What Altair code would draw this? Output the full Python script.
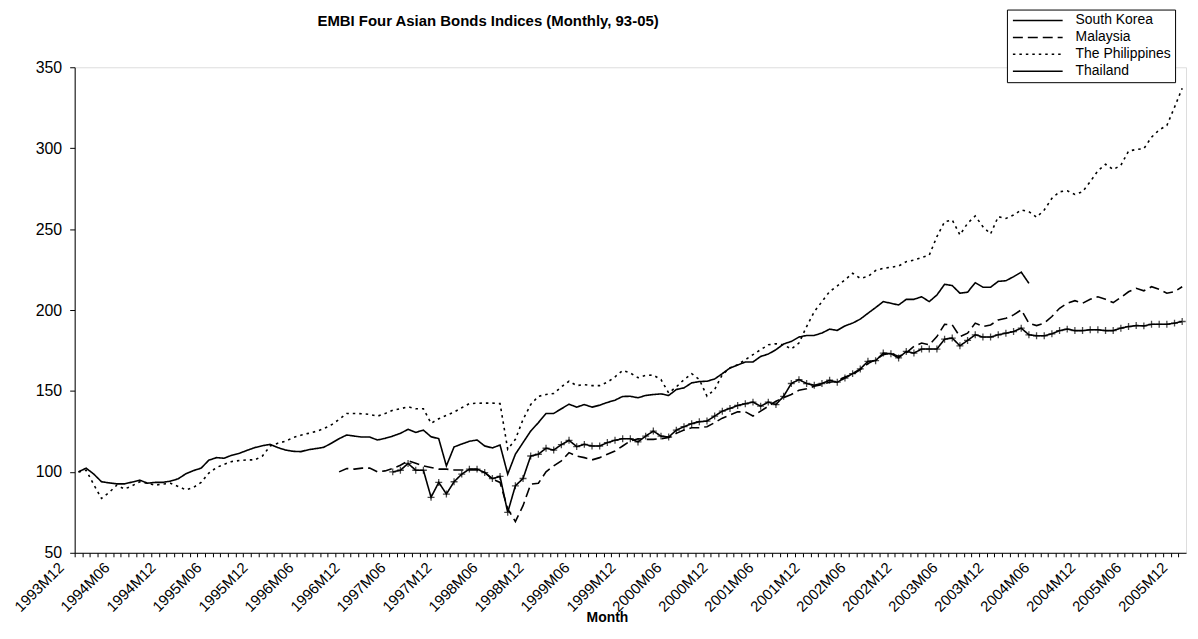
import json
import altair as alt
import pandas as pd

# ---------------- data ----------------
months = []
_y, _m = 1993, 12
for _ in range(145):
    months.append(f"{_y}M{_m:02d}")
    _m += 1
    if _m > 12:
        _m = 1
        _y += 1

tick_labels = months[::6]

countries = ["South Korea", "Malaysia", "The Philippines", "Thailand"]

korea_start = 0
korea = [
    100.0, 102.3, 98.6, 93.9, 93.2, 92.6, 92.6, 93.7, 94.9, 93.0, 93.5, 93.5, 94.3, 95.7, 98.8, 100.8,
    102.3, 107.2, 108.8, 108.4, 110.3, 111.5, 113.3, 115.0, 116.2, 117.0, 115.0, 113.5, 112.7, 112.5,
    113.7, 114.4, 115.2, 117.7, 120.5, 122.8, 122.1,
    121.5, 121.5, 119.7, 120.7, 122.1, 123.8, 126.3, 124.4, 125.8, 121.7, 120.5, 103.7, 115.4, 117.2,
    118.9, 119.7, 116.0, 114.8, 116.6, 98.6, 110.9, 118.1, 125.2, 130.4, 136.1, 136.1, 139.0, 141.8,
    140.0, 141.6, 140.0, 141.2, 142.9, 144.3, 146.6, 146.7, 145.8,
    147.2, 147.8, 148.2, 147.2, 150.9, 151.9, 155.0, 155.8, 156.0, 157.4, 160.7, 164.2, 166.0, 167.9,
    167.9, 171.3, 172.8, 175.5, 179.0, 180.6, 183.3, 184.3, 184.3, 185.8, 188.2, 187.4, 190.2, 191.9,
    194.4, 198.0, 201.5, 205.2, 204.2, 203.1, 206.6,
    206.6, 208.2, 205.2, 209.3, 215.9, 215.1, 210.4, 211.0, 216.9, 214.1, 214.1, 217.7, 218.1, 220.6,
    223.4, 216.5,
]

malaysia_start = 34
malaysia = [
    100.0, 102.1, 101.7, 102.3, 102.3, 100.0, 100.6, 102.1, 104.1, 106.8, 105.4, 103.7, 102.7, 101.7,
    101.7, 101.2, 101.2, 101.2, 101.2, 99.6, 95.5, 93.5, 77.1, 69.3, 79.1, 92.4, 93.0, 100.0, 103.7,
    106.8, 111.9, 109.8, 108.8, 107.4, 108.8, 110.9, 112.9, 116.0, 119.1, 120.5,
    120.1, 120.1, 120.5, 121.2, 123.8, 125.8, 127.3, 127.3, 127.9, 130.4, 133.2, 135.1, 137.1, 137.1,
    134.5, 137.5, 140.6, 143.7, 145.8, 147.8, 150.4, 151.3, 152.9, 153.9, 155.4, 156.0, 158.7, 160.1,
    163.2, 166.9, 169.3, 172.4, 173.4, 171.3, 173.5,
    177.5, 179.6, 178.5, 183.6, 191.2, 190.8, 183.6, 185.7, 191.9, 189.8, 190.8, 193.9, 194.9, 197.0,
    200.1, 191.9, 190.4, 191.9, 196.0, 201.1, 204.2, 205.8, 204.2, 206.6, 208.2, 206.6, 204.6, 207.8,
    211.3, 213.4, 211.9, 214.4, 212.8, 210.4, 211.3, 214.4,
]

philippines_start = 0
philippines = [
    100.0, 101.0, 92.0, 83.6, 87.3, 91.8, 89.4, 91.4, 93.9, 93.0, 91.8, 92.4, 93.0, 91.0, 88.9, 90.4,
    93.5, 99.2, 102.7, 104.7, 106.4, 107.0, 107.4, 107.4, 109.8, 116.0, 117.7, 118.9, 121.2, 122.6,
    123.8, 125.0, 126.7, 129.1, 132.4, 136.1, 136.1,
    135.9, 135.5, 134.4, 136.0, 138.1, 139.0, 140.2, 139.0, 139.0, 130.0, 132.8, 134.9, 136.9, 139.6,
    142.2, 142.4, 142.5, 142.5, 142.2, 114.0, 120.1, 132.4, 141.6, 146.7, 147.8, 148.4, 152.5, 156.0,
    153.3, 153.9, 153.3, 153.3, 155.4, 158.7, 162.7, 161.1, 158.2,
    159.6, 159.8, 157.0, 148.8, 152.5, 157.0, 160.7, 157.0, 146.8, 150.9, 160.1, 164.2, 166.2, 169.3,
    172.4, 175.5, 178.5, 179.2, 178.5, 175.9, 179.6, 189.8, 199.0, 205.2, 211.4, 214.9, 218.6, 222.7,
    219.6, 220.7, 224.4, 225.8, 226.4, 227.2, 229.9,
    230.8, 232.4, 233.9, 245.4, 254.6, 255.6, 246.4, 253.6, 258.1, 251.5, 247.0, 257.7, 256.6, 258.7,
    261.8, 260.8, 257.3, 261.8, 269.0, 273.1, 273.7, 271.4, 273.1, 279.3, 286.0, 290.1, 286.8, 289.4,
    298.2, 299.2, 299.7, 306.8, 311.3, 314.0, 325.3, 337.0,
]

thailand_start = 41
thailand = [
    100.0, 101.0, 105.2, 101.0, 101.0, 84.3, 93.5, 86.3, 93.9, 98.6, 101.7, 101.7, 99.6, 95.9, 97.2,
    75.0, 91.4, 95.9, 109.8, 110.9, 114.6, 113.5, 116.8, 119.5, 115.6, 117.0, 116.0, 116.0, 118.1,
    119.5, 120.5, 120.5, 118.5,
    122.1, 125.2, 122.1, 121.5, 125.8, 127.9, 129.8, 131.0, 131.4, 134.5, 137.5, 139.2, 141.0, 142.1,
    143.1, 140.6, 143.1, 141.6, 146.7, 154.6, 157.0, 154.6, 153.5, 154.6, 156.6, 155.4, 158.0, 160.7,
    163.6, 168.3, 168.7, 173.4, 173.0, 170.4, 174.4,
    173.4, 175.9, 175.9, 175.9, 182.0, 182.7, 177.9, 181.2, 184.7, 183.3, 183.3, 184.7, 185.7, 186.7,
    188.8, 184.7, 184.1, 184.1, 185.3, 187.3, 188.2, 187.3, 187.3, 187.8, 187.8, 187.3, 187.3, 188.8,
    189.8, 190.4, 190.2, 191.2, 191.2, 191.2, 191.9, 192.9,
]

series = [
    ("South Korea", korea_start, korea),
    ("Malaysia", malaysia_start, malaysia),
    ("The Philippines", philippines_start, philippines),
    ("Thailand", thailand_start, thailand),
]

rows = []
for name, start, vals in series:
    for k, v in enumerate(vals):
        rows.append({"month": months[start + k], "country": name, "value": v})
df = pd.DataFrame(rows)

# ---------------- chart ----------------
FONT = "Arial"
step = 1117 / len(months)
label_expr = f"indexof({json.dumps(tick_labels)}, datum.value) >= 0 ? datum.value : ''"

x_enc = alt.X(
    "month:O",
    sort=months,
    scale=alt.Scale(type="point", padding=0.5, domain=months),
    axis=alt.Axis(
        values=months,
        tickOffset=-step / 2,
        labelExpr=label_expr,
        labelAngle=-45,
        labelAlign="right",
        labelBaseline="middle",
        labelOffset=-14,
        labelPadding=8,
        labelOverlap=False,
        labelBound=False,
        labelFlush=False,
        tickSize=4,
        labelFont=FONT,
        labelFontSize=15,
        labelColor="black",
        title="Month",
        titleFont=FONT,
        titleFontSize=14,
        titleFontWeight="bold",
        titleColor="black",
        titleX=535,
        titleY=69,
        titleBaseline="alphabetic",
        domainColor="black",
        tickColor="black",
        grid=False,
    ),
)

y_enc = alt.Y(
    "value:Q",
    scale=alt.Scale(domain=[50, 350], nice=False, zero=False),
    axis=alt.Axis(
        values=[50, 100, 150, 200, 250, 300, 350],
        tickSize=5,
        labelPadding=8,
        labelFont=FONT,
        labelFontSize=16,
        labelColor="black",
        title=None,
        domainColor="black",
        tickColor="black",
        grid=False,
    ),
)

lines = alt.Chart(df).mark_line(color="black", strokeWidth=1.6).encode(
    x=x_enc,
    y=y_enc,
    strokeDash=alt.StrokeDash(
        "country:N",
        scale=alt.Scale(domain=countries, range=[[1, 0], [10, 5], [2.5, 4], [1, 0]]),
        legend=alt.Legend(
            title=None,
            orient="none",
            legendX=937,
            legendY=-58,
            direction="vertical",
            symbolType="M-5,0L5,0",
            symbolSize=100,
            symbolOffset=20,
            symbolStrokeWidth=1.5,
            symbolStrokeColor="black",
            symbolFillColor="transparent",
            labelFont=FONT,
            labelFontSize=14,
            labelColor="black",
            labelOffset=31,
            rowPadding=3,
            padding=4,
            strokeColor="black",
            fillColor="white",
            cornerRadius=0,
        ),
    ),
)

plus_marks = alt.Chart(df[df["country"] == "Thailand"]).mark_point(
    shape="M-1,0L1,0M0,-1L0,1", filled=False, color="black", size=49, strokeWidth=1.3
).encode(x=x_enc, y=y_enc)

chart = (
    alt.layer(lines, plus_marks)
    .properties(
        width=1117,
        height=488,
        autosize="none",
        padding={"left": 67, "top": 58, "right": 4, "bottom": 70},
        title=alt.TitleParams(
            "EMBI Four Asian Bonds Indices (Monthly, 93-05)",
            font=FONT,
            fontSize=15,
            fontWeight="bold",
            color="black",
            anchor="middle",
            dx=-143,
            offset=-32,
            baseline="alphabetic",
        ),
    )
    .configure_view(stroke=None)
    .configure(background="white")
)

chart.save("out.html", embed_options={"renderer": "svg", "actions": False})
